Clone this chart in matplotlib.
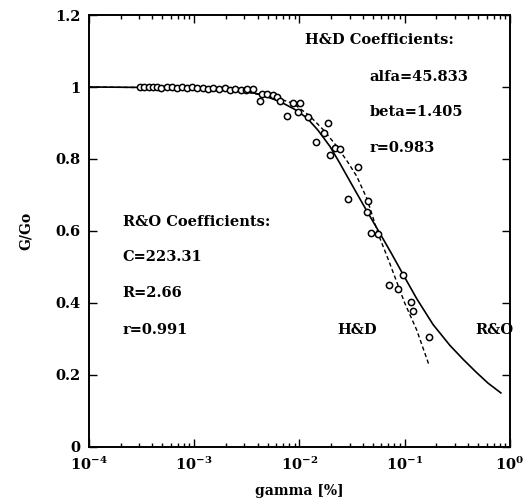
"""
G/Go vs shear strain with Hardin-Drnevich and Ramberg-Osgood fits.
"""

import matplotlib
matplotlib.use("Agg")
import matplotlib.pyplot as plt
from matplotlib.ticker import LogLocator, NullFormatter, FixedLocator

# ── measured points ──────────────────────────────────────────────────────
gamma_pts = [3.05e-4, 3.33e-4, 3.72e-4, 4.06e-4, 4.43e-4, 4.83e-4, 5.51e-4,
             6.15e-4, 6.86e-4, 7.65e-4, 8.53e-4, 9.52e-4, 1.06e-3, 1.21e-3,
             1.35e-3, 1.51e-3, 1.72e-3, 1.96e-3, 2.19e-3, 2.44e-3, 2.78e-3,
             3.10e-3, 3.17e-3, 3.61e-3, 4.22e-3, 4.40e-3, 4.91e-3, 5.60e-3,
             6.11e-3, 6.53e-3, 7.61e-3, 8.67e-3, 1.01e-2, 9.68e-3, 1.21e-2,
             1.43e-2, 1.73e-2, 1.87e-2, 1.95e-2, 2.17e-2, 2.43e-2, 3.63e-2,
             2.89e-2, 4.48e-2, 4.38e-2, 4.78e-2, 5.60e-2, 9.62e-2, 7.08e-2,
             8.63e-2, 0.115, 0.120, 0.170]
ratio_pts = [1.0, 1.0, 1.0, 0.999, 1.0, 0.998, 1.0,
             0.999, 0.998, 1.0, 0.997, 0.999, 0.996, 0.998,
             0.995, 0.997, 0.994, 0.996, 0.992, 0.995, 0.991,
             0.993, 0.994, 0.994, 0.961, 0.981, 0.981, 0.978,
             0.972, 0.961, 0.919, 0.956, 0.956, 0.931, 0.917,
             0.847, 0.872, 0.900, 0.811, 0.831, 0.828, 0.778,
             0.689, 0.683, 0.653, 0.594, 0.592, 0.478, 0.450,
             0.439, 0.403, 0.378, 0.306]

# ── fitted curves ────────────────────────────────────────────────────────
ro_gamma = [1e-4, 3e-4, 1e-3, 2e-3, 3e-3, 4.2e-3, 6.5e-3, 9e-3, 1.18e-2,
            1.5e-2, 1.95e-2, 2.4e-2, 2.84e-2, 3.5e-2, 4.38e-2, 5.8e-2,
            7.5e-2, 9.62e-2, 0.13, 0.186, 0.269, 0.36, 0.48, 0.62, 0.82]
ro_ratio = [1.0, 0.999, 0.997, 0.992, 0.988, 0.980, 0.960, 0.938, 0.914,
            0.880, 0.835, 0.790, 0.752, 0.705, 0.655, 0.594,
            0.537, 0.480, 0.412, 0.340, 0.282, 0.243, 0.207, 0.177, 0.150]

hd_gamma = [1e-4, 1e-3, 3e-3, 6e-3, 8.67e-3, 1.25e-2, 1.7e-2, 2.27e-2,
            2.9e-2, 3.5e-2, 4.38e-2, 5.6e-2, 7e-2, 0.1, 0.13, 0.17]
hd_ratio = [1.0, 0.997, 0.987, 0.970, 0.955, 0.920, 0.880, 0.835,
            0.790, 0.752, 0.690, 0.592, 0.520, 0.400, 0.325, 0.228]

plt.rcParams["font.family"] = "DejaVu Serif"
plt.rcParams["font.weight"] = "bold"
plt.rcParams["mathtext.fontset"] = "dejavuserif"
plt.rcParams["mathtext.default"] = "bf"

fig = plt.figure(figsize=(5.29, 5.01), dpi=100)
ax = fig.add_axes([0.168, 0.108, 0.796, 0.862])

ax.plot(ro_gamma, ro_ratio, "k-", lw=1.2)
ax.plot(hd_gamma, hd_ratio, "k--", lw=1.0, dashes=(3, 2))
ax.plot(gamma_pts, ratio_pts, "o", ms=4.5, mfc="white", mec="black",
        mew=1.1, ls="none")

ax.set_xscale("log")
ax.set_xlim(1e-4, 1)
ax.set_ylim(0, 1.2)

ax.xaxis.set_major_locator(FixedLocator([1e-4, 1e-3, 1e-2, 1e-1, 1]))
ax.set_xticklabels([r"$10^{-4}$", r"$10^{-3}$", r"$10^{-2}$",
                    r"$10^{-1}$", r"$10^{0}$"])
ax.xaxis.set_minor_locator(LogLocator(base=10, subs=range(2, 10), numticks=20))
ax.xaxis.set_minor_formatter(NullFormatter())
ax.set_yticks([0, 0.2, 0.4, 0.6, 0.8, 1.0, 1.2])
ax.set_yticklabels(["0", "0.2", "0.4", "0.6", "0.8", "1", "1.2"])

ax.tick_params(which="both", direction="in", top=True, right=True,
               labelsize=10.5, width=1.0)
ax.tick_params(which="major", length=6, pad=6)
ax.tick_params(which="minor", length=3)
for s in ax.spines.values():
    s.set_linewidth(1.4)

ax.set_xlabel("gamma [%]", fontsize=10, fontweight="bold", labelpad=8)
ax.set_ylabel("G/Go", fontsize=10, fontweight="bold", labelpad=16)

# ── annotations ──────────────────────────────────────────────────────────
tkw = dict(fontsize=10.5, fontweight="bold", va="center", ha="left")
ax.text(0.513, 0.942, "H&D Coefficients:", transform=ax.transAxes, **tkw)
ax.text(0.667, 0.856, "alfa=45.833", transform=ax.transAxes, **tkw)
ax.text(0.667, 0.775, "beta=1.405", transform=ax.transAxes, **tkw)
ax.text(0.667, 0.692, "r=0.983", transform=ax.transAxes, **tkw)

ax.text(2.1e-4, 0.625, "R&O Coefficients:", **tkw)
ax.text(2.1e-4, 0.527, "C=223.31", **tkw)
ax.text(2.1e-4, 0.428, "R=2.66", **tkw)
ax.text(2.1e-4, 0.325, "r=0.991", **tkw)
ax.text(2.3e-2, 0.325, "H&D", **tkw)
ax.text(0.465, 0.325, "R&O", **tkw)

fig.savefig("out.png", dpi=100)
